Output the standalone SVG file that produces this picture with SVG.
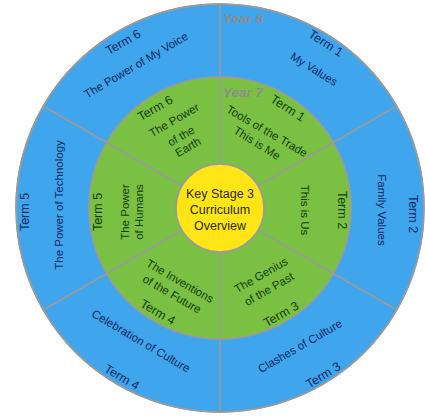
<svg xmlns="http://www.w3.org/2000/svg" width="425" height="416" viewBox="0 0 425 416">
<style>
text{font-family:"Liberation Sans",Arial,sans-serif;text-anchor:middle}
.blue{fill:#3fa6ee;stroke:#9a9a9a;stroke-width:1.5}
.green{fill:#7ac143;stroke:#9a9a9a;stroke-width:1.5}
.core{fill:#ffe516;stroke:#9a9a9a;stroke-width:1.5}
.tb{fill:#10295e;font-size:12.5px}
.db{fill:#10295e;font-size:11.5px}
.tg{fill:#163d0c;font-size:12.5px}
.dg{fill:#163d0c;font-size:11.5px}
.yr{fill:#8c8c8c;font-size:13.5px;font-weight:bold;font-style:italic}
.ctr{fill:#2a2a10;font-size:12.5px}
.div{stroke:#9a9a9a;stroke-width:1.5;fill:none}
</style>
<rect width="425" height="416" fill="#ffffff"/>
<g id="y8-term1">
<path class="blue" d="M220,4 A204,204 0 0 1 396.67,106 L333.45,142.5 A131,131 0 0 0 220,77 Z"/>
<text class="tb" dy="0.35em" transform="translate(326,43) rotate(33)">Term 1</text>
<text class="db" dy="0.35em" transform="translate(314,69) rotate(32)">My Values</text>
</g>
<g id="y8-term2">
<path class="blue" d="M396.67,106 A204,204 0 0 1 396.67,310 L333.45,273.5 A131,131 0 0 0 333.45,142.5 Z"/>
<text class="tb" dy="0.35em" transform="translate(413,214) rotate(90)">Term 2</text>
<text class="db" dy="0.35em" transform="translate(382,210) rotate(90)">Family Values</text>
</g>
<g id="y8-term3">
<path class="blue" d="M396.67,310 A204,204 0 0 1 220,412 L220,339 A131,131 0 0 0 333.45,273.5 Z"/>
<text class="tb" dy="0.35em" transform="translate(323,375) rotate(-32)">Term 3</text>
<text class="db" dy="0.35em" transform="translate(300,346) rotate(-30)">Clashes of Culture</text>
</g>
<g id="y8-term4">
<path class="blue" d="M220,412 A204,204 0 0 1 43.33,310 L106.55,273.5 A131,131 0 0 0 220,339 Z"/>
<text class="tb" dy="0.35em" transform="translate(122,377) rotate(30)">Term 4</text>
<text class="db" dy="0.35em" transform="translate(141,341) rotate(30.5)">Celebration of Culture</text>
</g>
<g id="y8-term5">
<path class="blue" d="M43.33,310 A204,204 0 0 1 43.33,106 L106.55,142.5 A131,131 0 0 0 106.55,273.5 Z"/>
<text class="tb" dy="0.35em" transform="translate(25,212) rotate(-90)">Term 5</text>
<text class="db" dy="0.35em" transform="translate(59,205) rotate(-90)">The Power of Technology</text>
</g>
<g id="y8-term6">
<path class="blue" d="M43.33,106 A204,204 0 0 1 220,4 L220,77 A131,131 0 0 0 106.55,142.5 Z"/>
<text class="tb" dy="0.35em" transform="translate(123,42) rotate(-30)">Term 6</text>
<text class="db" dy="0.35em" transform="translate(136,65) rotate(-30.5)">The Power of My Voice</text>
</g>
<g id="y7-term1">
<path class="green" d="M220,77 A131,131 0 0 1 333.45,142.5 L258.11,186 A44,44 0 0 0 220,164 Z"/>
<text class="tg" dy="0.35em" transform="translate(288,108) rotate(33)">Term 1</text>
<text class="dg" dy="0.35em" transform="translate(267,131) rotate(30)">Tools of the Trade</text>
<text class="dg" dy="0.35em" transform="translate(257,143) rotate(32)">This is Me</text>
</g>
<g id="y7-term2">
<path class="green" d="M333.45,142.5 A131,131 0 0 1 333.45,273.5 L258.11,230 A44,44 0 0 0 258.11,186 Z"/>
<text class="tg" dy="0.35em" transform="translate(342,210) rotate(90)">Term 2</text>
<text class="dg" dy="0.35em" transform="translate(305,210) rotate(90)">This is Us</text>
</g>
<g id="y7-term3">
<path class="green" d="M333.45,273.5 A131,131 0 0 1 220,339 L220,252 A44,44 0 0 0 258.11,230 Z"/>
<text class="dg" dy="0.35em" transform="translate(261,275) rotate(-30)">The Genius</text>
<text class="dg" dy="0.35em" transform="translate(269,289) rotate(-30)">of the Past</text>
<text class="tg" dy="0.35em" transform="translate(281,314) rotate(-30)">Term 3</text>
</g>
<g id="y7-term4">
<path class="green" d="M220,339 A131,131 0 0 1 106.55,273.5 L181.89,230 A44,44 0 0 0 220,252 Z"/>
<text class="dg" dy="0.35em" transform="translate(180,281) rotate(30)">The Inventions</text>
<text class="dg" dy="0.35em" transform="translate(172,294) rotate(30)">of the Future</text>
<text class="tg" dy="0.35em" transform="translate(158,312) rotate(30)">Term 4</text>
</g>
<g id="y7-term5">
<path class="green" d="M106.55,273.5 A131,131 0 0 1 106.55,142.5 L181.89,186 A44,44 0 0 0 181.89,230 Z"/>
<text class="tg" dy="0.35em" transform="translate(98,212) rotate(-90)">Term 5</text>
<text class="dg" dy="0.35em" transform="translate(125,212) rotate(-90)">The Power</text>
<text class="dg" dy="0.35em" transform="translate(139,212) rotate(-90)">of Humans</text>
</g>
<g id="y7-term6">
<path class="green" d="M106.55,142.5 A131,131 0 0 1 220,77 L220,164 A44,44 0 0 0 181.89,186 Z"/>
<text class="tg" dy="0.35em" transform="translate(155,108) rotate(-30)">Term 6</text>
<text class="dg" dy="0.35em" transform="translate(174,120) rotate(-30)">The Power</text>
<text class="dg" dy="0.35em" transform="translate(181,136) rotate(-30)">of the</text>
<text class="dg" dy="0.35em" transform="translate(188,147) rotate(-30)">Earth</text>
</g>
<g id="connectors">
<circle class="div" cx="220" cy="208" r="204" stroke-width="2"/>
</g>
<g id="year-labels">
<text class="yr" x="243" y="23">Year 8</text>
<text class="yr" x="243" y="97">Year 7</text>
</g>
<g id="centre">
<circle class="core" cx="220" cy="208" r="44"/>
<text class="ctr" x="220" y="198">Key Stage 3</text>
<text class="ctr" x="220" y="214">Curriculum</text>
<text class="ctr" x="220" y="230">Overview</text>
</g>
</svg>
